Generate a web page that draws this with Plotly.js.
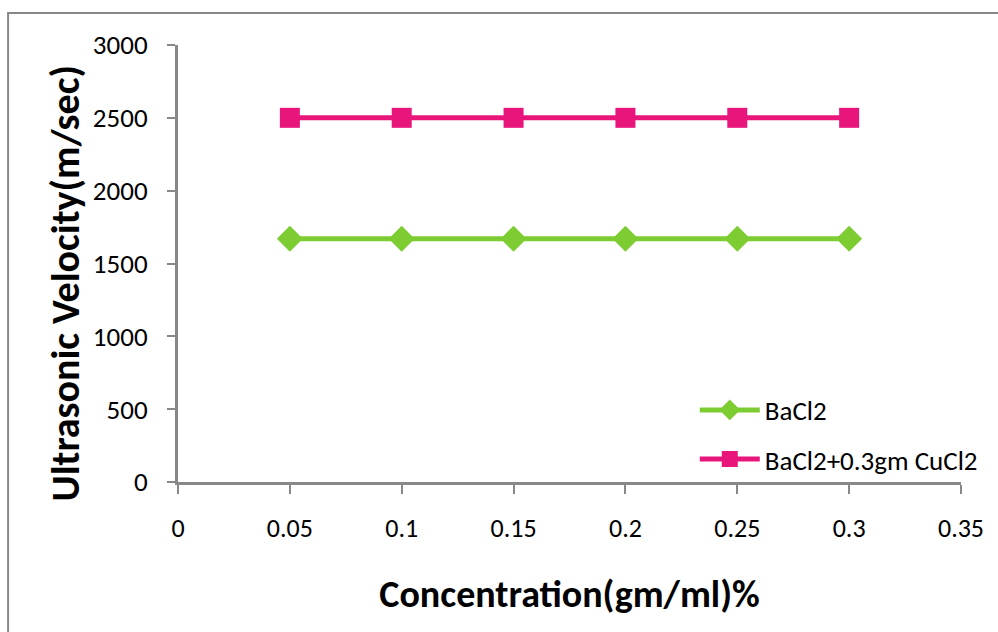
<!DOCTYPE html>
<html><head><meta charset="utf-8">
<script src="https://cdn.plot.ly/plotly-3.0.1.min.js"></script>
<style>html,body{margin:0;padding:0;background:#fff}#chart{width:998px;height:632px}</style>
</head><body><div id="chart"></div>
<script>
var concentration = [0.05, 0.1, 0.15, 0.2, 0.25, 0.3];
var bacl2 = [1670, 1670, 1670, 1670, 1670, 1670];
var bacl2Cucl2 = [2500, 2500, 2500, 2500, 2500, 2500];
var seriesNames = ["BaCl2", "BaCl2+0.3gm CuCl2"];
var xTicks = [0, 0.05, 0.1, 0.15, 0.2, 0.25, 0.3, 0.35];
var xTickText = ["0", "0.05", "0.1", "0.15", "0.2", "0.25", "0.3", "0.35"];
var yTicks = [0, 500, 1000, 1500, 2000, 2500, 3000];
var xTitle = "Concentration(gm/ml)%";
var yTitle = "Ultrasonic Velocity(m/sec)";

var font = "Carlito, 'Noto Sans', sans-serif";
var traces = [
  {x: concentration, y: bacl2, name: seriesNames[0], legendgroup: "a", mode: "lines+markers",
   line: {color: "#7dcd32", width: 5}, marker: {symbol: "diamond", size: 20, color: "#7dcd32"}},
  {x: concentration, y: bacl2Cucl2, name: seriesNames[1], legendgroup: "b", mode: "lines+markers",
   line: {color: "#e8157a", width: 5}, marker: {symbol: "square", size: 20, color: "#e8157a"}}
];
var layout = {
  width: 998, height: 632,
  margin: {l: 178, r: 37, t: 45, b: 150},
  paper_bgcolor: "#fff", plot_bgcolor: "#fff",
  font: {family: font, size: 26, color: "#000"},
  showlegend: true,
  legend: {x: 0.66, y: 0.22, xanchor: "left", yanchor: "top", bgcolor: "rgba(0,0,0,0)",
           font: {family: font, size: 27}, traceorder: "grouped", itemwidth: 60, tracegroupgap: 11},
  xaxis: {range: [0, 0.35], tickvals: xTicks, ticktext: xTickText, showgrid: false, zeroline: false,
          showline: true, linecolor: "#888", linewidth: 3, ticks: "outside", ticklen: 9, tickwidth: 2, tickcolor: "#888",
          tickfont: {family: font, size: 26}, ticklabelstandoff: 12, fixedrange: true,
          title: {text: "<b>" + xTitle + "</b>", font: {family: font, size: 38}, standoff: 38}},
  yaxis: {range: [0, 3000], tickvals: yTicks, showgrid: false, zeroline: false,
          showline: true, linecolor: "#888", linewidth: 3, ticks: "outside", ticklen: 8, tickwidth: 2, tickcolor: "#888",
          tickfont: {family: font, size: 27}, ticklabelstandoff: 14, fixedrange: true},
  annotations: [{text: "<b>" + yTitle + "</b>", xref: "paper", yref: "paper", x: -0.144, y: 0.455,
                 xanchor: "center", yanchor: "middle", textangle: -90, showarrow: false,
                 font: {family: font, size: 40, color: "#000"}}],
  shapes: [{type: "rect", xref: "paper", yref: "paper", x0: -0.217, x1: 1.1, y0: -0.5, y1: 1.073,
            line: {color: "#888", width: 2}, fillcolor: "rgba(0,0,0,0)", layer: "below"}]
};
Plotly.newPlot("chart", traces, layout, {displayModeBar: false, staticPlot: true});
</script></body></html>
